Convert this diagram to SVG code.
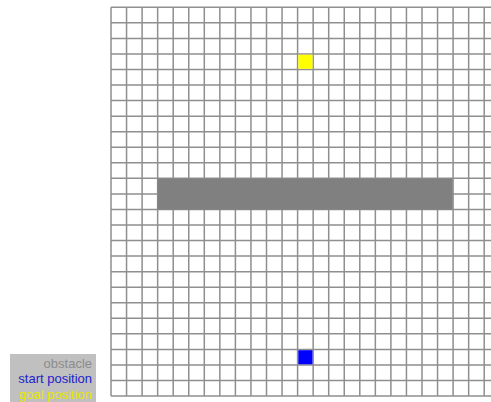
<svg xmlns="http://www.w3.org/2000/svg" width="491" height="402" viewBox="0 0 491 402">
<style>
.grid{fill:none;stroke:#8f8f8f;stroke-width:1.5}
.lg{font-family:"Liberation Sans",Arial,sans-serif;font-size:13px;text-anchor:end}
</style>
<rect width="491" height="402" fill="#ffffff"/>
<g id="grid">
<path class="grid" d="M111 7.3V396.05M126.55 7.3V396.05M142.1 7.3V396.05M157.65 7.3V396.05M173.2 7.3V396.05M188.75 7.3V396.05M204.3 7.3V396.05M219.85 7.3V396.05M235.4 7.3V396.05M250.95 7.3V396.05M266.5 7.3V396.05M282.05 7.3V396.05M297.6 7.3V396.05M313.15 7.3V396.05M328.7 7.3V396.05M344.25 7.3V396.05M359.8 7.3V396.05M375.35 7.3V396.05M390.9 7.3V396.05M406.45 7.3V396.05M422 7.3V396.05M437.55 7.3V396.05M453.1 7.3V396.05M468.65 7.3V396.05M484.2 7.3V396.05M499.75 7.3V396.05
M111 7.3H499.75M111 22.85H499.75M111 38.4H499.75M111 53.95H499.75M111 69.5H499.75M111 85.05H499.75M111 100.6H499.75M111 116.15H499.75M111 131.7H499.75M111 147.25H499.75M111 162.8H499.75M111 178.35H499.75M111 193.9H499.75M111 209.45H499.75M111 225H499.75M111 240.55H499.75M111 256.1H499.75M111 271.65H499.75M111 287.2H499.75M111 302.75H499.75M111 318.3H499.75M111 333.85H499.75M111 349.4H499.75M111 364.95H499.75M111 380.5H499.75M111 396.05H499.75"/>
</g>
<g id="obstacle"><rect x="157.5" y="178.6" width="295.2" height="31" fill="#808080"/></g>
<g id="goal"><rect x="298.3" y="54.7" width="14.2" height="14.1" fill="#ffff00"/></g>
<g id="start"><rect x="298.3" y="350.2" width="14.2" height="14.1" fill="#0000ff"/></g>
<g id="legend">
<rect x="10" y="354" width="86" height="48" fill="#c0c0c0"/>
<text class="lg" x="92" y="367.5" fill="#8c8c8c">obstacle</text>
<text class="lg" x="92" y="383" fill="#2222cc">start position</text>
<text class="lg" x="92" y="398.5" fill="#e6e600">goal position</text>
</g>
</svg>
